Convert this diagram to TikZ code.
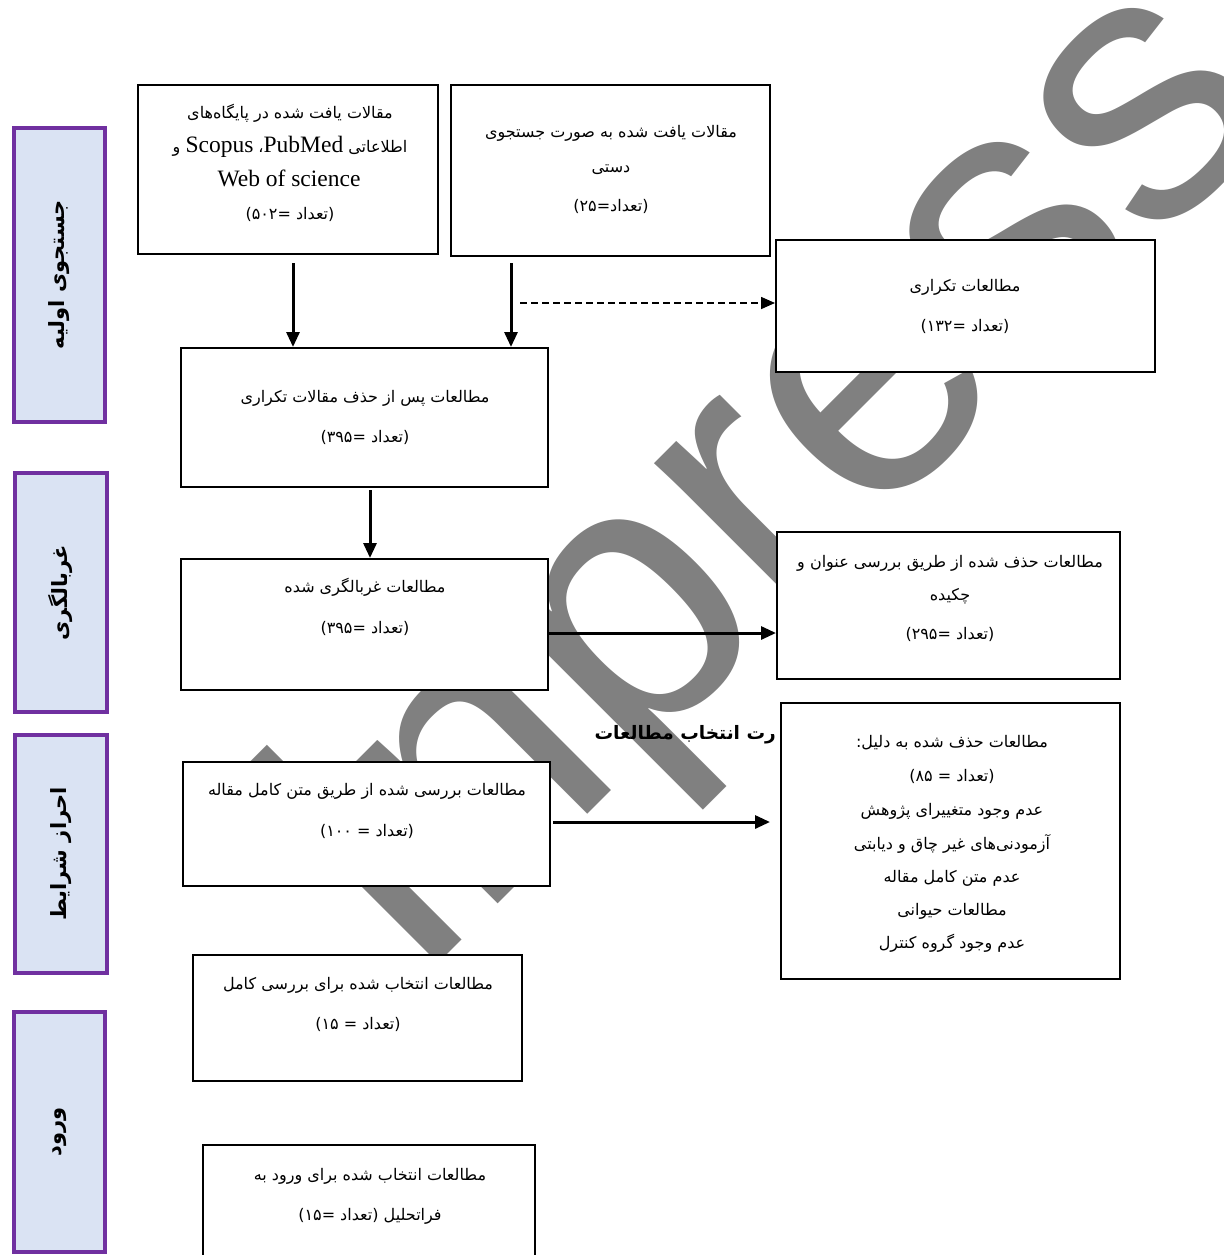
\documentclass[tikz,border=0pt]{standalone}
\usepackage{fontspec}
\setmainfont{Liberation Serif}
\newfontfamily\fa[Script=Arabic]{DejaVu Sans}
\newfontfamily\wmfont{Liberation Sans}
\TeXXeTstate=1
\usetikzlibrary{arrows.meta}
\definecolor{lblfill}{HTML}{DAE3F3}
\definecolor{lbldraw}{HTML}{7030A0}
\definecolor{wmgray}{HTML}{808080}
\newcommand\rtl[1]{\beginR #1\endR}
\begin{document}
\begin{tikzpicture}[x=1pt,y=-1pt,
  box/.style={draw=black, line width=2pt, fill=white, inner sep=0pt},
  lbl/.style={draw=lbldraw, line width=3.5pt, fill=lblfill, inner sep=0pt},
  lbltext/.style={font=\fa\bfseries\fontsize{21}{24}\selectfont, rotate=90, inner sep=0pt},
  ft/.style={font=\fa\fontsize{16}{20}\selectfont, anchor=base, inner sep=0pt},
  lt/.style={font=\fontsize{23.5}{26}\selectfont, anchor=base, inner sep=0pt},
  arr/.style={line width=3pt, -{Triangle[length=15pt,width=13pt]}},
  darr/.style={line width=1.6pt, dash pattern=on 7pt off 4pt, -{Triangle[length=14pt,width=12pt]}}]
\useasboundingbox (0,0) rectangle (1223,1255);
\clip (0,0) rectangle (1223,1255);

% watermark
\node[font=\wmfont\fontsize{380}{380}\selectfont, text=wmgray, rotate=45, anchor=base west, inner sep=0pt] (wm) at (420,982) {inpress};

% stage labels
\node[lbl, minimum width=91pt, minimum height=294pt] (L1) at (59.5,275) {};
\node[lbltext] (L1t) at (L1.center) {\rtl{جستجوی اولیه}};
\node[lbl, minimum width=92pt, minimum height=239pt] (L2) at (61,592.5) {};
\node[lbltext] (L2t) at (L2.center) {\rtl{غربالگری}};
\node[lbl, minimum width=92pt, minimum height=238pt] (L3) at (61,854) {};
\node[lbltext] (L3t) at (L3.center) {\rtl{احراز شرایط}};
\node[lbl, minimum width=91pt, minimum height=240pt] (L4) at (59.5,1132) {};
\node[lbltext] (L4t) at (L4.center) {\rtl{ورود}};

% title (partly hidden)
\node[font=\fa\bfseries\fontsize{18.5}{22}\selectfont, anchor=base east, inner sep=0pt] (title) at (776,739) {\rtl{رت انتخاب مطالعات}};

% boxes
\node[box, minimum width=300pt, minimum height=169pt] (A) at (288,169.5) {};
\node[box, minimum width=319pt, minimum height=171pt] (B) at (610.5,170.5) {};
\node[box, minimum width=379pt, minimum height=132pt] (C) at (965.5,306) {};
\node[box, minimum width=367pt, minimum height=139pt] (D) at (364.5,417.5) {};
\node[box, minimum width=367pt, minimum height=131pt] (E) at (364.5,624.5) {};
\node[box, minimum width=343pt, minimum height=147pt] (F) at (948.5,605.5) {};
\node[box, minimum width=339pt, minimum height=276pt] (G) at (950.5,841) {};
\node[box, minimum width=367pt, minimum height=124pt] (H) at (366.5,824) {};
\node[box, minimum width=329pt, minimum height=126pt] (I) at (357.5,1018) {};
\node[box, minimum width=332pt, minimum height=155pt] (J) at (369,1222.5) {};

% texts
\node[ft] (a1) at (290,118) {\rtl{مقالات یافت شده در پایگاه‌های}};
\node[ft] (a2) at (290,152) {\rtl{اطلاعاتی {\rmfamily\fontsize{23.5}{26}\selectfont PubMed}، {\rmfamily\fontsize{23.5}{26}\selectfont Scopus} و}};
\node[lt] (a3) at (289,186) {Web of science};
\node[ft] (a4) at (290,219) {\rtl{(تعداد =۵۰۲)}};

\node[ft] (b1) at (611,137) {\rtl{مقالات یافت شده به صورت جستجوی}};
\node[ft] (b2) at (611,172) {\rtl{دستی}};
\node[ft] (b3) at (611,211) {\rtl{(تعداد=۲۵)}};

\node[ft] (c1) at (965,291) {\rtl{مطالعات تکراری}};
\node[ft] (c2) at (965,331) {\rtl{(تعداد =۱۳۲)}};

\node[ft] (d1) at (365,402) {\rtl{مطالعات پس از حذف مقالات تکراری}};
\node[ft] (d2) at (365,442) {\rtl{(تعداد =۳۹۵)}};

\node[ft] (e1) at (365,592) {\rtl{مطالعات غربالگری شده}};
\node[ft] (e2) at (365,633) {\rtl{(تعداد =۳۹۵)}};

\node[ft] (f1) at (950,567) {\rtl{مطالعات حذف شده از طریق بررسی عنوان و}};
\node[ft] (f2) at (950,600) {\rtl{چکیده}};
\node[ft] (f3) at (950,639) {\rtl{(تعداد =۲۹۵)}};

\node[ft] (g1) at (952,747) {\rtl{مطالعات حذف شده به دلیل:}};
\node[ft] (g2) at (952,781) {\rtl{(تعداد = ۸۵)}};
\node[ft] (g3) at (952,815) {\rtl{عدم وجود متغییرای پژوهش}};
\node[ft] (g4) at (952,849) {\rtl{آزمودنی‌های غیر چاق و دیابتی}};
\node[ft] (g5) at (952,882) {\rtl{عدم متن کامل مقاله}};
\node[ft] (g6) at (952,915) {\rtl{مطالعات حیوانی}};
\node[ft] (g7) at (952,948) {\rtl{عدم وجود گروه کنترل}};

\node[ft] (h1) at (367,795) {\rtl{مطالعات بررسی شده از طریق متن کامل مقاله}};
\node[ft] (h2) at (367,836) {\rtl{(تعداد = ۱۰۰)}};

\node[ft] (i1) at (358,989) {\rtl{مطالعات انتخاب شده برای بررسی کامل}};
\node[ft] (i2) at (358,1029) {\rtl{(تعداد = ۱۵)}};

\node[ft] (j1) at (370,1180) {\rtl{مطالعات انتخاب شده برای ورود به}};
\node[ft] (j2) at (370,1220) {\rtl{فراتحلیل (تعداد =۱۵)}};

% connectors
\coordinate (as) at (293,263);
\coordinate (bs) at (511,263);
\coordinate (ds) at (520,303);
\coordinate (dd) at (370,490);
\coordinate (es) at (548,633);
\coordinate (hs) at (553,822);
\draw[arr] (as) -- (as |- D.north);
\draw[arr] (bs) -- (bs |- D.north);
\draw[darr] (ds) -- (ds -| C.west);
\draw[arr] (dd) -- (dd |- E.north);
\draw[arr] (es) -- (es -| F.west);
\draw[arr] (hs) -- ([xshift=-10pt]hs -| G.west);
\end{tikzpicture}
\end{document}
